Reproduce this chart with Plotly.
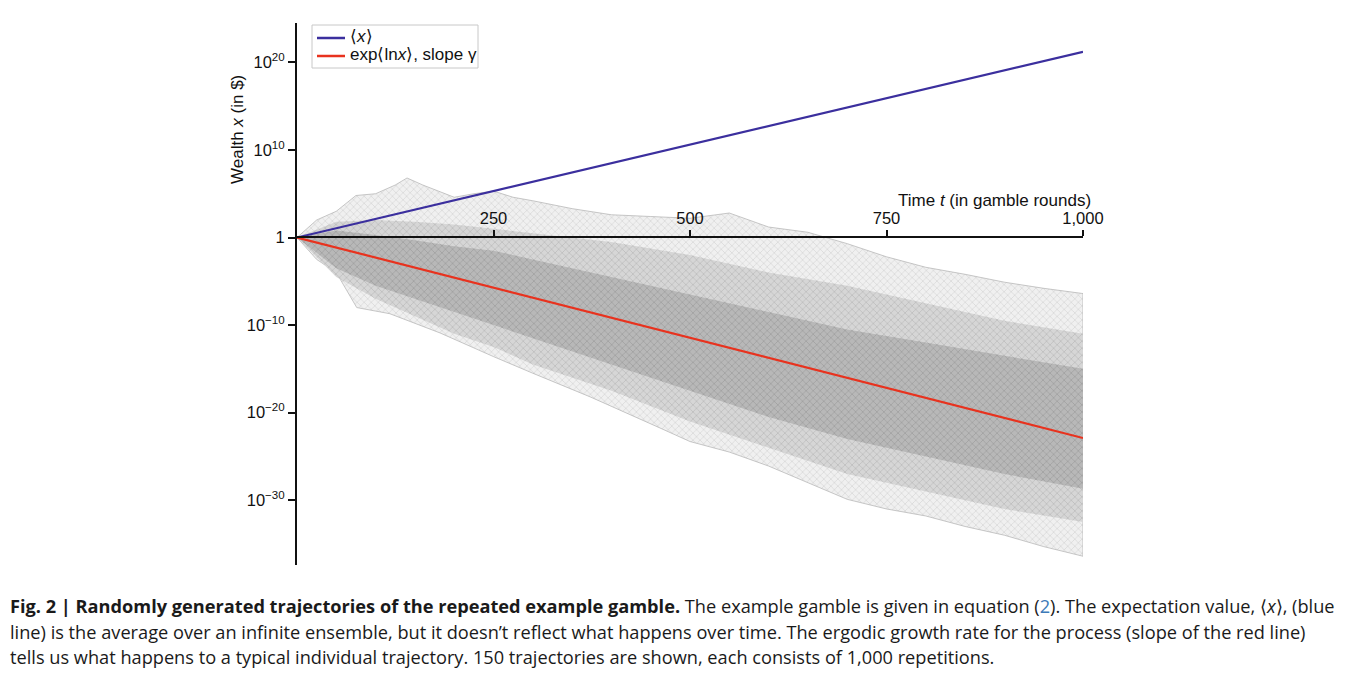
import plotly.graph_objects as go

# время (раунды) и границы пучка траекторий, в порядках (log10 богатства)
t_outer_up = [0, 25, 50, 75, 100, 125, 140, 160, 180, 200, 225, 250, 275, 300, 350, 400,
              450, 500, 550, 600, 650, 700, 750, 800, 850, 900, 950, 1000]
v_outer_up = [0, 2.0, 3.0, 4.8, 5.0, 6.0, 6.8, 6.0, 5.3, 4.6, 5.0, 5.3, 4.6, 4.2, 3.3, 2.6,
              2.4, 2.2, 2.8, 1.2, 0.6, -0.7, -2.2, -3.4, -4.2, -5.1, -5.8, -6.4]
t_outer_lo = [0, 25, 50, 76, 118, 150, 182, 250, 300, 373, 458, 500, 550, 600, 650, 700,
              750, 800, 850, 900, 950, 1000]
v_outer_lo = [0, -2.5, -4.0, -8.0, -8.7, -9.8, -10.9, -13.6, -15.5, -18.2, -21.6, -23.3,
              -24.5, -26.1, -28.0, -29.9, -31.0, -31.8, -33.0, -34.0, -35.3, -36.4]

t_band = [0, 50, 100, 150, 200, 250, 300, 400, 500, 600, 700, 800, 900, 1000]
v_mid_up = [0, 1.8, 2.0, 1.8, 1.5, 1.0, 0.5, -0.5, -2.0, -4.0, -5.5, -7.5, -9.5, -11.0]
v_mid_lo = [0, -4.5, -7.0, -9.0, -11.0, -12.5, -14.5, -17.5, -21.0, -24.0, -27.0, -29.0, -31.0, -32.5]
v_core_up = [0, 0.8, 0.3, -0.3, -1.0, -1.5, -2.5, -4.5, -6.5, -8.5, -10.5, -12.0, -13.5, -15.0]
v_core_lo = [0, -3.5, -5.5, -7.0, -8.5, -10.0, -11.5, -14.5, -17.5, -20.5, -23.0, -25.0, -27.0, -28.7]

# две прямые: среднее по ансамблю и exp<ln x>
t_lines = [0, 1000]
v_mean = [0, 21.2]
v_typical = [0, -22.9]

y_ticks = [-30, -20, -10, 0, 10, 20]
y_labels = ["10<sup>\u221230</sup>", "10<sup>\u221220</sup>", "10<sup>\u221210</sup>", "1",
            "10<sup>10</sup>", "10<sup>20</sup>"]
x_ticks = [250, 500, 750, 1000]
x_labels = ["250", "500", "750", "1,000"]

W, H = 1340, 680
OFF = 8  # страница рисуется со сдвигом 8px (отступ body)
L, R, T, B = 297 - OFF, 1083 - OFF, 23 - OFF, 565 - OFF


def px(xp):  # экранный x -> доля области построения
    return (xp - OFF - L) / (R - L)


def py(yp):
    return (B - (yp - OFF)) / (B - T)


def lin(vals):
    return [10.0 ** v for v in vals]


def band(t_up, v_up, t_lo, v_lo, bg, fg, edge):
    xs = list(t_up) + list(t_lo)[::-1]
    ys = lin(v_up) + lin(v_lo)[::-1]
    # штриховка "x" имитирует сетку из тонких зигзагов
    return go.Scatter(x=xs, y=ys, fill="toself", fillcolor=bg, mode="lines",
                      fillpattern=dict(shape="x", fgcolor=fg, bgcolor=bg, size=5, solidity=0.25),
                      line=dict(color=edge, width=0.7), showlegend=False, hoverinfo="skip")


fig = go.Figure()
fig.add_trace(band(t_outer_up, v_outer_up, t_outer_lo, v_outer_lo, "#f0f0f0", "#bcbcbc", "#b0b0b0"))
fig.add_trace(band(t_band, v_mid_up, t_band, v_mid_lo, "#d6d6d6", "#9c9c9c", "rgba(0,0,0,0)"))
fig.add_trace(band(t_band, v_core_up, t_band, v_core_lo, "#b8b8b8", "#808080", "rgba(0,0,0,0)"))

blue, red = "#3b2f9e", "#e8321e"
fig.add_trace(go.Scatter(x=t_lines, y=lin(v_mean), mode="lines",
                         line=dict(color=blue, width=2.2), showlegend=False))
fig.add_trace(go.Scatter(x=t_lines, y=lin(v_typical), mode="lines",
                         line=dict(color=red, width=2.2), showlegend=False))

axis_font = dict(family="Liberation Sans, Arial, sans-serif", size=17, color="#111")
tick_font = dict(family="Liberation Sans, Arial, sans-serif", size=16.5, color="#111")

fig.update_layout(
    width=W, height=H,
    margin=dict(l=L, r=W - R, t=T, b=H - B),
    paper_bgcolor="white", plot_bgcolor="white",
    font=axis_font,
    showlegend=False,
    xaxis=dict(range=[0, 1000], anchor="free", position=py(237), side="top",
               tickvals=x_ticks, ticktext=x_labels, ticks="outside", ticklen=6,
               tickwidth=1.5, tickcolor="#111", showline=True, linecolor="#111",
               linewidth=1.5, showgrid=False, zeroline=False, tickfont=tick_font),
    yaxis=dict(type="log", range=[-37.4, 24.5], tickvals=lin(y_ticks),
               ticktext=y_labels, ticks="outside", ticklen=7, tickwidth=1.5,
               tickcolor="#111", showline=True, linecolor="#111", linewidth=2,
               showgrid=False, zeroline=False, tickfont=tick_font),
)

# легенда вручную: рамка, два отрезка, две подписи
fig.add_shape(type="rect", xref="paper", yref="paper", x0=px(312), x1=px(478),
              y0=py(68), y1=py(25), line=dict(color="#c8c8c8", width=1), fillcolor="white")
for yy, col, label in [(38, blue, "\u27e8<i>x</i>\u27e9"),
                       (56, red, "exp\u27e8ln<i>x</i>\u27e9, slope \u03b3")]:
    fig.add_shape(type="line", xref="paper", yref="paper", x0=px(317), x1=px(345),
                  y0=py(yy), y1=py(yy), line=dict(color=col, width=2.5))
    fig.add_annotation(text=label, xref="paper", yref="paper", x=px(348), y=py(yy - 1),
                       xanchor="left", yanchor="middle", showarrow=False, font=axis_font)

fig.add_annotation(text="Time <i>t</i> (in gamble rounds)", xref="paper", yref="paper",
                   x=px(1093), y=py(200), xanchor="right", yanchor="middle",
                   showarrow=False, font=axis_font)
fig.add_annotation(text="Wealth <i>x</i> (in $)", xref="paper", yref="paper",
                   x=px(237), y=py(130), xanchor="center", yanchor="middle",
                   textangle=-90, showarrow=False, font=axis_font)

# подпись под рисунком
cap_font = dict(family="Open Sans, sans-serif", size=18.2, color="#1a1a1a")
caption = [
    "<b>Fig. 2 | Randomly generated trajectories of the repeated example gamble.</b> "
    "The example gamble is given in equation (<span style='color:#3d7ab8'>2</span>). "
    "The expectation value, \u27e8<i>x</i>\u27e9, (blue",
    "line) is the average over an infinite ensemble, but it doesn\u2019t reflect what happens "
    "over time. The ergodic growth rate for the process (slope of the red line)",
    "tells us what happens to a typical individual trajectory. 150 trajectories are shown, "
    "each consists of 1,000 repetitions.",
]
for i, line in enumerate(caption):
    fig.add_annotation(text=line, xref="paper", yref="paper", x=px(8), y=py(606 + 25.5 * i),
                       xanchor="left", yanchor="middle", showarrow=False, font=cap_font)

fig.write_html("out.html")
